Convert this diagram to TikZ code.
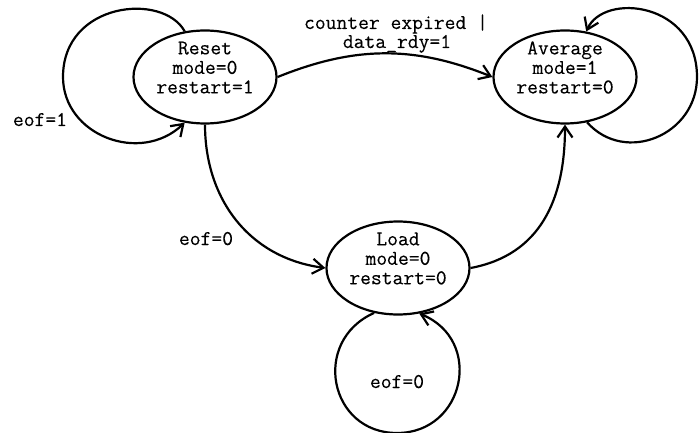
\documentclass[tikz,border=0pt]{standalone}
\usepackage{fontspec}
\setmonofont{Latin Modern Mono}[FakeBold=0.25]
\usetikzlibrary{arrows.meta,shapes.geometric}
\begin{document}
\begin{tikzpicture}[x=1pt,y=1pt,
  line width=2.2pt,
  state/.style={draw, ellipse, minimum width=143pt, minimum height=93pt, inner sep=0pt},
  statetext/.style={align=center, font=\ttfamily\fontsize{21}{19.5}\selectfont, inner sep=0pt, yshift=9.5pt},
  lbl/.style={font=\ttfamily\fontsize{21}{19.5}\selectfont, inner sep=0pt, anchor=base},
  trans/.style={-{Straight Barb[length=11pt,width=15pt]}}]
\useasboundingbox (0,0) rectangle (699,-433);

% states
\node[state] (reset) at (205,-77) {};
\node[state] (avg)   at (565,-77) {};
\node[state] (load)  at (398,-268) {};
\node[statetext] (resettxt) at (reset.center) {Reset\\mode=0\\restart=1};
\node[statetext] (avgtxt)   at (avg.center)   {Average\\mode=1\\restart=0};
\node[statetext] (loadtxt)  at (load.center)  {Load\\mode=0\\restart=0};

% transitions
\draw[trans] (reset.114) .. controls (163,8) and (63,-2) .. (63,-77)
             .. controls (63,-135) and (140,-165) .. (reset.246);
\draw[trans] (avg.296) .. controls (625,-165) and (697,-135) .. (697,-77)
             .. controls (697,-2) and (604,8) .. (avg.65);
\draw[trans] (reset.east) to[bend left=22] (avg.west);
\draw[trans] (reset.south) .. controls (205,-200) and (250,-258) .. (load.west);
\draw[trans] (load.east) .. controls (540,-255) and (565,-200) .. (avg.south);
\draw[trans] (load.242) .. controls (311,-341) and (329,-433) .. (397,-433)
             .. controls (465,-433) and (484,-340) .. (load.295);

% transition labels
\node[lbl] (l1) at (40,-126) {eof=1};
\node[lbl] (l2a) at (396,-29) {counter expired |};
\node[lbl] (l2b) at (397,-48) {data\_rdy=1};
\node[lbl] (l3) at (206,-245) {eof=0};
\node[lbl] (l4) at (397,-388) {eof=0};
\end{tikzpicture}
\end{document}
